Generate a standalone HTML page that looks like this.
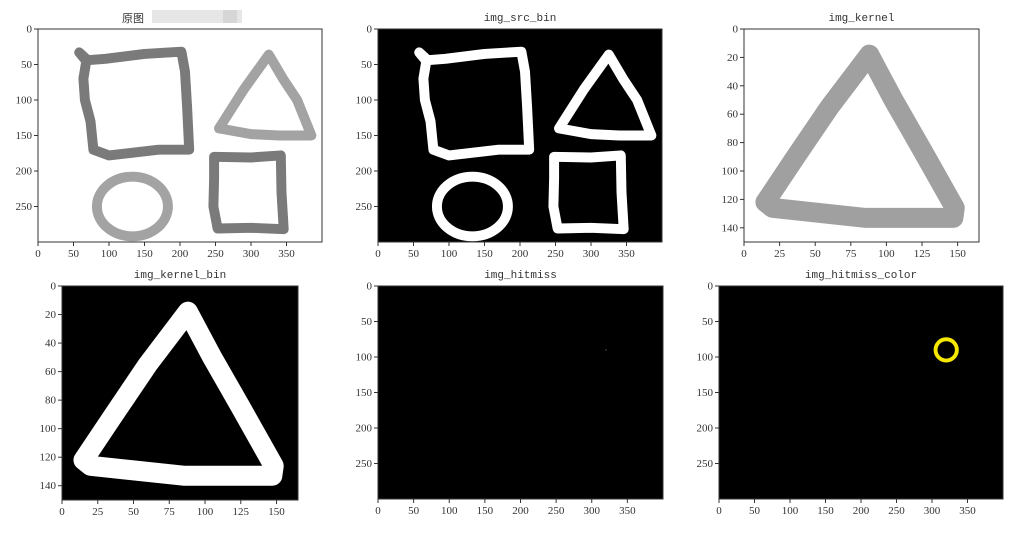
<!DOCTYPE html>
<html><head><meta charset="utf-8">
<style>
html,body{margin:0;padding:0;background:#fff;}
svg{display:block;}
.tk{font-family:"Liberation Serif",serif;font-size:11px;fill:#333;}
.tt{font-family:"Liberation Mono","Noto Sans CJK SC",monospace;font-size:11px;fill:#333;}
</style></head>
<body>
<svg id="fig" width="1024" height="533" viewBox="0 0 1024 533" xmlns="http://www.w3.org/2000/svg"></svg>
<script>
// ---- data (image coordinates) ----
const srcXTicks = [0,50,100,150,200,250,300,350];
const srcYTicks = [0,50,100,150,200,250];
const kerXTicks = [0,25,50,75,100,125,150];
const kerYTicks = [0,20,40,60,80,100,120,140];
const bigQuad = [[58,33],[70,44],[95,42],[150,35],[202,32],[207,60],[210,110],[213,170],[170,170],[100,178],[78,170],[74,130],[66,100],[64,70],[68,45]];
const triangle = [[325,36],[290,85],[255,140],[300,148],[340,150],[385,150],[365,100],[345,70]];
const circleShape = [133,250,50,42];
const smallQuad = [[248,180],[300,181],[342,178],[343,230],[346,282],[300,280],[253,281],[247,250],[248,210]];
const kerTri = [[88,18],[60,55],[35,92],[15,122],[20,126],[85,133],[147,133],[148,126],[125,85],[105,50]];
const hitPoint = [320,90];
const hitRingRadius = [15];

const svg = document.getElementById('fig');
const NS = 'http://www.w3.org/2000/svg';
function mk(tag, attrs, parent){const e=document.createElementNS(NS,tag);for(const k in attrs)e.setAttribute(k,attrs[k]);(parent||svg).appendChild(e);return e;}

function panel(name, box, W, H, xt, yt, title, bg){
  const [x0,y0,x1,y1]=box;
  const sx=v=>x0+(v/W)*(x1-x0), sy=v=>y0+(v/H)*(y1-y0);
  const g=mk('g',{});
  
  
  const bgR=mk('rect',{x:x0,y:y0,width:x1-x0,height:y1-y0,fill:bg},g);
  
  
  const marks=mk('g',{},g);
  
  
  const fr=mk('rect',{x:x0,y:y0,width:x1-x0,height:y1-y0,fill:'none',stroke:'#333','stroke-width':1},g);
  
  
  xt.forEach(v=>{
    const X=sx(v);
    mk('line',{x1:X,y1:y1,x2:X,y2:y1+4,stroke:'#333'},g);
    const t=mk('text',{x:X,y:y1+15,'text-anchor':'middle',class:'tk'},g);t.textContent=v;
    
    
  });
  yt.forEach(v=>{
    const Y=sy(v);
    mk('line',{x1:x0,y1:Y,x2:x0-4,y2:Y,stroke:'#333'},g);
    const t=mk('text',{x:x0-6,y:Y+3.5,'text-anchor':'end',class:'tk'},g);t.textContent=v;
    
    
  });
  if(title){
    const t=mk('text',{x:(x0+x1)/2,y:y0-8,'text-anchor':'middle',class:'tt'},g);t.textContent=title;
    
    
  }
  const k=(x1-x0)/W;
  return {sx,sy,k,marks};
}
function poly(p, pts, color, sw, name){
  const d=pts.map((q,i)=>(i?'L':'M')+p.sx(q[0]).toFixed(1)+' '+p.sy(q[1]).toFixed(1)).join(' ')+' Z';
  const e=mk('path',{d,fill:'none',stroke:color,'stroke-width':sw*p.k,'stroke-linejoin':'round','stroke-linecap':'round'},p.marks);
  
  
}
function ell(p, c, color, sw, name){
  const e=mk('ellipse',{cx:p.sx(c[0]),cy:p.sy(c[1]),rx:c[2]*p.k,ry:c[3]*p.k,fill:'none',stroke:color,'stroke-width':sw*p.k},p.marks);
  
  
}
function shapes(p, dark, light){
  poly(p,bigQuad,dark,14,'big-quad');
  poly(p,triangle,light,14,'triangle');
  ell(p,circleShape,light,14,'circle');
  poly(p,smallQuad,dark,14,'small-quad');
}

const p1=panel('panel-original',[38,29,322,242],400,300,srcXTicks,srcYTicks,'','#fff');
shapes(p1,'#7a7a7a','#a3a3a3');
const t1=mk('text',{x:122,y:22,class:'tt','font-size':'12'});t1.textContent='原图';


const blur=mk('rect',{x:152,y:10,width:90,height:13,fill:'#e6e6e6'});


mk('rect',{x:223,y:10,width:14,height:13,fill:'#d6d6d6'});

const p2=panel('panel-src-bin',[378,29,662,242],400,300,srcXTicks,srcYTicks,'img_src_bin','#000');
shapes(p2,'#fff','#fff');

const p3=panel('panel-kernel',[744,29,979,242],165,150,kerXTicks,kerYTicks,'img_kernel','#fff');
poly(p3,kerTri,'#a0a0a0',14,'kernel-triangle');

const p4=panel('panel-kernel-bin',[62,286,298,500],165,150,kerXTicks,kerYTicks,'img_kernel_bin','#000');
poly(p4,kerTri,'#fff',14,'kernel-bin-triangle');

const p5=panel('panel-hitmiss',[378,286,663,499],400,300,srcXTicks,srcYTicks,'img_hitmiss','#000');
const dot=mk('rect',{x:p5.sx(hitPoint[0])-0.5,y:p5.sy(hitPoint[1])-0.5,width:1,height:1,fill:'#888'},p5.marks);



const p6=panel('panel-hitmiss-color',[719,286,1003,499],400,300,srcXTicks,srcYTicks,'img_hitmiss_color','#000');
const ring=mk('circle',{cx:p6.sx(hitPoint[0]),cy:p6.sy(hitPoint[1]),r:hitRingRadius[0]*p6.k,fill:'none',stroke:'#f5e800','stroke-width':5.5*p6.k},p6.marks);


</script>
</body></html>
